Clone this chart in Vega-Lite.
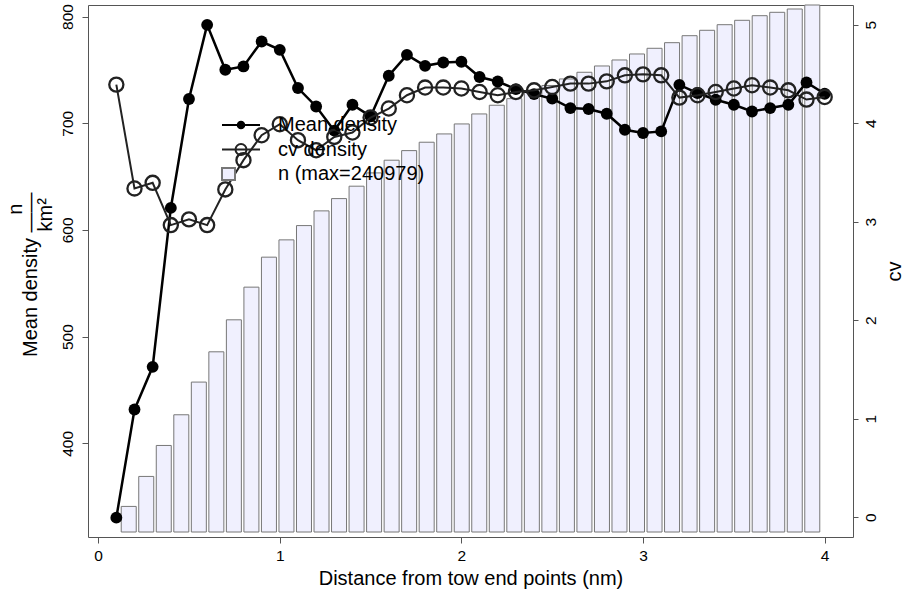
{
  "$schema": "https://vega.github.io/schema/vega-lite/v6.json",
  "width": 765,
  "height": 532,
  "autosize": {"type": "none"},
  "padding": {"left": 88, "top": 5, "right": 51, "bottom": 60},
  "background": "white",
  "data": {
    "values": [
      {"d": 0.1, "n": 11699, "mean": 330.3, "cv": 4.392},
      {"d": 0.2, "n": 25409, "mean": 431.7, "cv": 3.338},
      {"d": 0.3, "n": 39576, "mean": 471.7, "cv": 3.395},
      {"d": 0.4, "n": 53606, "mean": 620.6, "cv": 2.966},
      {"d": 0.5, "n": 68550, "mean": 722.7, "cv": 3.024},
      {"d": 0.6, "n": 82397, "mean": 792.2, "cv": 2.966},
      {"d": 0.7, "n": 97021, "mean": 750.1, "cv": 3.328},
      {"d": 0.8, "n": 111965, "mean": 753.2, "cv": 3.625},
      {"d": 0.9, "n": 125675, "mean": 776.6, "cv": 3.878},
      {"d": 1.0, "n": 133581, "mean": 768.8, "cv": 3.99},
      {"d": 1.1, "n": 140116, "mean": 733.0, "cv": 3.828},
      {"d": 1.2, "n": 146834, "mean": 715.7, "cv": 3.726},
      {"d": 1.3, "n": 152455, "mean": 693.0, "cv": 3.861},
      {"d": 1.4, "n": 158122, "mean": 717.3, "cv": 3.906},
      {"d": 1.5, "n": 164200, "mean": 706.4, "cv": 4.058},
      {"d": 1.6, "n": 170004, "mean": 744.5, "cv": 4.149},
      {"d": 1.7, "n": 174391, "mean": 764.1, "cv": 4.284},
      {"d": 1.8, "n": 178230, "mean": 753.8, "cv": 4.362},
      {"d": 1.9, "n": 182023, "mean": 756.9, "cv": 4.362},
      {"d": 2.0, "n": 186593, "mean": 757.6, "cv": 4.352},
      {"d": 2.1, "n": 191163, "mean": 743.3, "cv": 4.317},
      {"d": 2.2, "n": 195139, "mean": 739.1, "cv": 4.284},
      {"d": 2.3, "n": 198155, "mean": 732.0, "cv": 4.317},
      {"d": 2.4, "n": 201217, "mean": 727.3, "cv": 4.334},
      {"d": 2.5, "n": 204188, "mean": 723.0, "cv": 4.368},
      {"d": 2.6, "n": 207158, "mean": 714.2, "cv": 4.402},
      {"d": 2.7, "n": 210220, "mean": 713.3, "cv": 4.402},
      {"d": 2.8, "n": 213099, "mean": 708.9, "cv": 4.425},
      {"d": 2.9, "n": 215841, "mean": 693.9, "cv": 4.486},
      {"d": 3.0, "n": 218583, "mean": 690.8, "cv": 4.496},
      {"d": 3.1, "n": 221188, "mean": 692.3, "cv": 4.486},
      {"d": 3.2, "n": 223747, "mean": 736.0, "cv": 4.26},
      {"d": 3.3, "n": 226946, "mean": 728.3, "cv": 4.284},
      {"d": 3.4, "n": 229414, "mean": 722.0, "cv": 4.317},
      {"d": 3.5, "n": 231973, "mean": 717.3, "cv": 4.352},
      {"d": 3.6, "n": 233984, "mean": 711.0, "cv": 4.385},
      {"d": 3.7, "n": 236086, "mean": 714.2, "cv": 4.362},
      {"d": 3.8, "n": 237640, "mean": 717.3, "cv": 4.334},
      {"d": 3.9, "n": 239148, "mean": 738.2, "cv": 4.24},
      {"d": 4.0, "n": 240979, "mean": 727.6, "cv": 4.266}
    ]
  },
  "layer": [
    {
      "mark": {"type": "bar", "width": 15, "strokeWidth": 1, "opacity": 1},
      "encoding": {
        "x": {"field": "d", "type": "quantitative", "scale": {"domain": [-0.1038, 4.2038], "nice": false, "zero": false}, "axis": null},
        "y": {"field": "n", "type": "quantitative", "scale": {"domain": [-2285, 240979], "nice": false, "zero": false}, "axis": null},
        "y2": {"datum": 0},
        "fill": {
          "datum": "n (max=240979)",
          "scale": {"domain": ["Mean density", "cv density", "n (max=240979)"], "range": ["#000000", "transparent", "#f0f0fe"]},
          "legend": {
            "orient": "none",
            "legendX": 143,
            "legendY": 110,
            "title": null,
            "padding": 0,
            "labelFont": "Liberation Sans",
            "labelFontSize": 20,
            "labelColor": "#000000",
            "labelOffset": 27,
            "labelLimit": 400,
            "rowPadding": 4.5,
            "symbolSize": 100,
            "symbolStrokeWidth": 2,
            "symbolOpacity": 1
          }
        },
        "stroke": {
          "datum": "n (max=240979)",
          "scale": {"domain": ["Mean density", "cv density", "n (max=240979)"], "range": ["#000000", "#222222", "#777777"]}
        }
      }
    },
    {
      "encoding": {
        "x": {"field": "d", "type": "quantitative", "scale": {"domain": [-0.056, 4.156], "nice": false, "zero": false},
          "axis": {"orient": "bottom", "values": [0, 1, 2, 3, 4], "labelBaseline": "alphabetic", "labelPadding": 17.4, "tickSize": 6,
            "title": "Distance from tow end points (nm)", "titleBaseline": "alphabetic", "titleY": 47.7}},
        "y": {"field": "mean", "type": "quantitative", "scale": {"domain": [312.2, 810.8], "nice": false, "zero": false},
          "axis": {"orient": "left", "values": [400, 500, 600, 700, 800], "labelAngle": -90, "labelAlign": "center", "labelBaseline": "alphabetic", "labelPadding": 10, "tickSize": 6,
            "title": ["n\u00a0\u00a0\u200d", "Mean density\u00a0\u2014\u2014", "km\u00b2\u00a0\u200d"], "titleAngle": -90, "titleAlign": "right", "titleBaseline": "alphabetic", "titleX": -67, "titleY": 187, "titleLineHeight": 15}}
      },
      "layer": [
        {"mark": {"type": "line", "strokeWidth": 2.5}, "encoding": {"stroke": {"datum": "Mean density"}}},
        {"mark": {"type": "point", "shape": "circle", "filled": true, "size": 140, "opacity": 1}, "encoding": {"fill": {"datum": "Mean density"}}}
      ]
    },
    {
      "encoding": {
        "x": {"field": "d", "type": "quantitative", "scale": {"domain": [-0.056, 4.156], "nice": false, "zero": false}, "axis": null},
        "y": {"field": "cv", "type": "quantitative", "scale": {"domain": [-0.2, 5.2], "nice": false, "zero": false},
          "axis": {"orient": "right", "values": [0, 1, 2, 3, 4, 5], "labelAngle": -90, "labelAlign": "center", "labelBaseline": "alphabetic", "labelPadding": 17, "tickSize": 5,
            "title": "cv", "titleAngle": -90, "titleAlign": "center", "titleBaseline": "alphabetic", "titleX": 47, "titleY": 266}},
        "stroke": {"datum": "cv density"}
      },
      "layer": [
        {"mark": {"type": "line", "strokeWidth": 2}},
        {"mark": {"type": "point", "shape": "circle", "filled": false, "size": 200, "strokeWidth": 2.3, "opacity": 1}}
      ]
    },
    {
      "transform": [{"filter": "false"}],
      "mark": {"type": "point", "opacity": 1},
      "encoding": {
        "shape": {
          "datum": "Mean density",
          "scale": {"domain": ["Mean density", "cv density", "n (max=240979)"], "range": [
            "M-3.8,0H3.8M-0.66,0A0.66,0.66,0,1,1,0.66,0A0.66,0.66,0,1,1,-0.66,0Z",
            "M-3.8,0H3.8M-1.1,0A1.1,1.1,0,1,1,1.1,0A1.1,1.1,0,1,1,-1.1,0Z",
            "M-3.8,-1.2H-1.2V1.2H-3.8Z"
          ]}
        }
      }
    }
  ],
  "resolve": {"scale": {"x": "independent", "y": "independent"}},
  "config": {
    "view": {"stroke": "#555555", "strokeWidth": 1},
    "legend": {"symbolStrokeWidth": 2, "symbolOpacity": 1, "symbolSize": 100},
    "axis": {
      "grid": false,
      "domain": false,
      "labelFont": "Liberation Sans",
      "labelFontSize": 15.5,
      "labelColor": "#000000",
      "labelOverlap": false,
      "labelFlush": false,
      "tickColor": "#555555",
      "tickWidth": 1,
      "titleFont": "Liberation Sans",
      "titleFontSize": 20,
      "titleFontWeight": "normal",
      "titleColor": "#000000"
    }
  }
}
